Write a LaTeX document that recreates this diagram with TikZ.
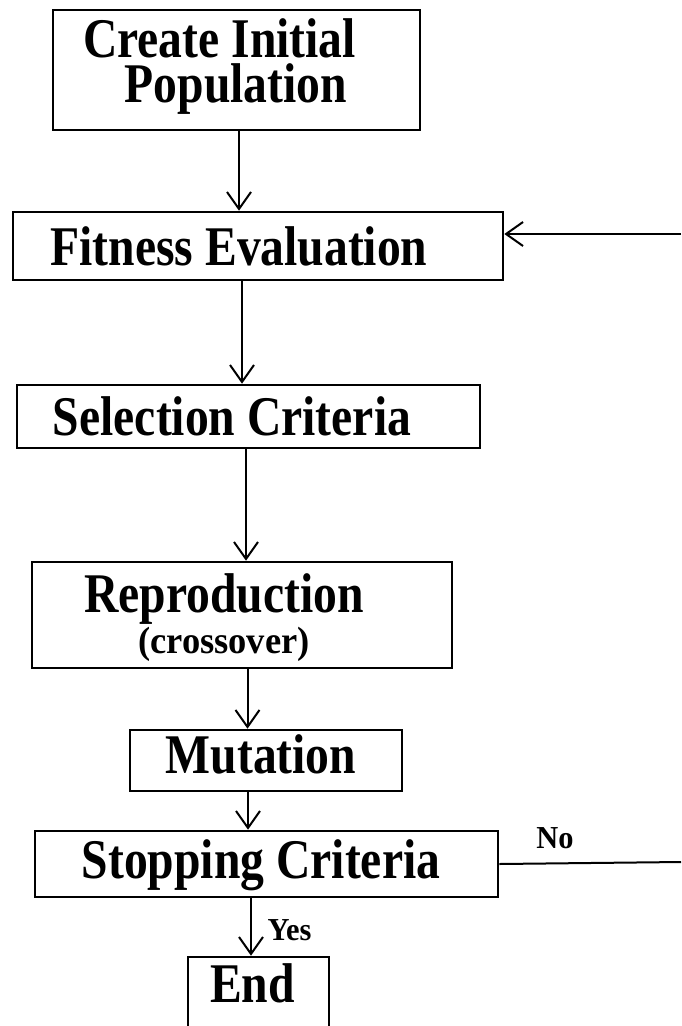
\documentclass[tikz,border=0pt]{standalone}
\usepackage{fontspec}
\setmainfont{Liberation Serif}
\usetikzlibrary{arrows.meta}
\newcommand{\bigtxt}[1]{\scalebox{0.85}[1]{\fontsize{56}{42}\selectfont\bfseries #1}}
\newcommand{\smtxt}[1]{\scalebox{0.96}[1]{\fontsize{38}{38}\selectfont\bfseries #1}}
\newcommand{\lbltxt}[1]{\scalebox{0.95}[1]{\fontsize{32}{32}\selectfont\bfseries #1}}
\begin{document}
\begin{tikzpicture}[x=1pt,y=-1pt,
  box/.style={draw=black, line width=2.6pt, rectangle, inner sep=0pt, fill=none},
  txt/.style={anchor=base, inner sep=0pt, text=black},
  conn/.style={draw=black, line width=2pt},
  arr/.style={conn, -{Straight Barb[length=17pt,width=24pt,line width=2pt]}}]
\clip (0,0) rectangle (681,1026);
\fill[white] (0,0) rectangle (681,1026);
% boxes
\node[box, minimum width=367pt, minimum height=120pt] (b1) at (236.5,70) {};
\node[box, minimum width=490pt, minimum height=68pt] (b2) at (258,246) {};
\node[box, minimum width=463pt, minimum height=63pt] (b3) at (248.5,416.5) {};
\node[box, minimum width=420pt, minimum height=106pt] (b4) at (242,615) {};
\node[box, minimum width=272pt, minimum height=61pt] (b5) at (266,760.5) {};
\node[box, minimum width=463pt, minimum height=66pt] (b6) at (266.5,864) {};
\node[box, minimum width=141pt, minimum height=100pt] (b7) at (258.5,1007) {};
% texts
\node[txt, anchor=base west] (t1) at (83,102) {\scalebox{0.85}[1]{\fontsize{56}{45}\selectfont\bfseries\vbox{\hbox{Create Initial}\hbox{\hspace{49pt}Population}}}};
\node[txt] (t2) at (239,265) {\bigtxt{Fitness Evaluation}};
\node[txt] (t3) at (232,435) {\bigtxt{Selection Criteria}};
\node[txt] (t4a) at (224,612) {\bigtxt{Reproduction}};
\node[txt] (t4b) at (224,653) {\smtxt{(crossover)}};
\node[txt] (t5) at (261,773) {\bigtxt{Mutation}};
\node[txt] (t6) at (261,878) {\bigtxt{Stopping Criteria}};
\node[txt] (t7) at (252.5,1002) {\bigtxt{End}};
\node[txt] (no) at (555,848) {\lbltxt{No}};
\node[txt] (yes) at (289.5,940) {\lbltxt{Yes}};
% connector columns
\coordinate (c1) at (239,0);
\coordinate (c2) at (242,0);
\coordinate (c3) at (246,0);
\coordinate (c4) at (247.5,0);
\coordinate (c5) at (248,0);
\coordinate (c6) at (251,0);
\coordinate (r1) at (681,234);
\coordinate (r2) at (681,862);
\draw[arr] (b1.south -| c1) -- (b2.north -| c1);
\draw[arr] (b2.south -| c2) -- (b3.north -| c2);
\draw[arr] (b3.south -| c3) -- (b4.north -| c3);
\draw[arr] (b4.south -| c4) -- (b5.north -| c4);
\draw[arr] (b5.south -| c5) -- (b6.north -| c5);
\draw[arr] (b6.south -| c6) -- (b7.north -| c6);
\draw[arr] (r1) -- (r1 -| b2.east);
\draw[conn] (b6.east) -- (r2);
\end{tikzpicture}
\end{document}
